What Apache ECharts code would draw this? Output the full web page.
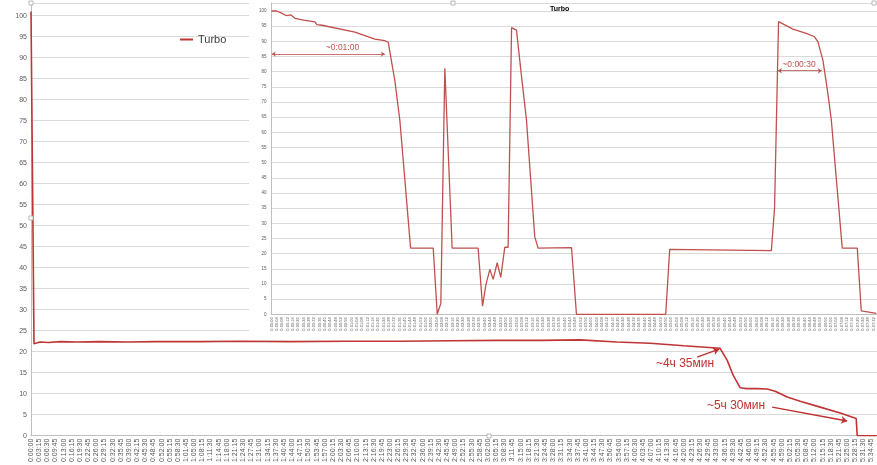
<!DOCTYPE html>
<html><head><meta charset="utf-8">
<script src="https://cdn.jsdelivr.net/npm/echarts@6/dist/echarts.min.js"></script>
<style>html,body{margin:0;padding:0;background:#fff}#c{width:877px;height:465px}</style>
</head><body><div id="c"></div>
<script>
// ---- main chart data (time in seconds, value) ----
const mainTimes  = [0, 72, 110, 215, 420, 700, 1100, 1650, 2300, 3000, 4040, 5000, 6190, 7500, 8820, 10000, 11210, 12200, 13120, 14000, 14795, 15600, 16465, 16634, 16778, 16945, 17100, 17350, 17590, 17782, 18068, 18380, 18857, 19335, 19718, 19742, 20215];
const mainValues = [101, 21.9, 22.1, 22.3, 22.2, 22.4, 22.3, 22.4, 22.3, 22.4, 22.4, 22.5, 22.4, 22.5, 22.5, 22.6, 22.7, 22.7, 22.8, 22.3, 22.0, 21.4, 20.8, 18.0, 14.4, 11.4, 11.2, 11.2, 11.1, 10.6, 9.2, 8.2, 6.8, 5.4, 4.1, 0, 0];
// ---- inset chart data (time in seconds, value) ----
const insetTimes  = [0, 3.9, 7.6, 10.9, 12.4, 14.6, 17.6, 25, 32.6, 34, 38, 62.6, 77.6, 85, 87.6, 92.6, 96.4, 104.4, 121.4, 124.4, 127.1, 130.1, 135.6, 155.1, 158.4, 160.9, 163.9, 166.4, 169.4, 172.1, 175.1, 177.6, 180.2, 183.9, 187.7, 191.4, 197.6, 200.1, 225.2, 228.9, 295.9, 298.9, 375.2, 377.6, 380.6, 391.4, 401.4, 407.6, 410.1, 413.9, 417.6, 420.2, 428.4, 439.7, 442.7, 454];
const insetValues = [100, 100, 99.3, 98.5, 98.1, 98.7, 97.6, 96.9, 96.4, 95.5, 95.3, 93.0, 90.7, 90.2, 89.7, 77, 63.7, 21.8, 21.8, 0, 3.6, 81.1, 21.8, 21.8, 2.7, 9.7, 14.8, 11.5, 17.0, 12.2, 22.1, 22.1, 94.5, 93.7, 78.3, 64, 25.6, 21.8, 22, 0, 0, 21.4, 21.0, 35, 96.5, 94.0, 92.6, 91.5, 89.9, 83.8, 72.9, 64.1, 21.8, 21.8, 1.1, 0.3];
const mainTickStep = 195;   // 0:03:15
const insetTickStep = 4;    // 0:00:04
const seriesName = 'Turbo';

const RED = '#c0504d';
const DARKRED = '#c0302e';
const GRAY = '#595959';
const GRID = '#d9d9d9';
const FONT = '"Liberation Sans", Arial, sans-serif';

function fmt(s){
  s = Math.round(s);
  const h = Math.floor(s/3600), m = Math.floor(s%3600/60), ss = s%60;
  return h + ':' + String(m).padStart(2,'0') + ':' + String(ss).padStart(2,'0');
}
const mainData = mainTimes.map((t,i)=>[t, mainValues[i]]);
const insetData = insetTimes.map((t,i)=>[t, insetValues[i]]);

const chart = echarts.init(document.getElementById('c'), null, {renderer:'canvas'});
const option = {
  animation: false,
  backgroundColor: '#fff',
  title: {text: 'Turbo', left: 545, top: 1, z: 10,
    textStyle: {fontSize: 7, fontWeight: 'bold', color: '#000', fontFamily: FONT}},
  legend: {left: 180, top: 34, padding: 0, itemWidth: 13, itemHeight: 2, icon: 'rect',
    data: [seriesName], textStyle: {fontSize: 11, color: '#404040', fontFamily: FONT}},
  grid: [
    {left: 31, top: 3, width: 846, height: 432.7, containLabel: false, outerBoundsMode: 'none'},
    {left: 271.5, top: 3.1, width: 605.5, height: 311.2, containLabel: false, outerBoundsMode: 'none'}
  ],
  xAxis: [
    {type: 'value', gridIndex: 0, min: 0, max: 20215, interval: mainTickStep, z: 0,
      axisLine: {show: true, lineStyle: {color: '#bfbfbf'}}, axisTick: {show: false},
      splitLine: {show: false},
      axisLabel: {rotate: 90, fontSize: 7, color: GRAY, margin: 3, fontFamily: FONT,
        formatter: v => (Math.round(v) % mainTickStep === 0 ? fmt(v) : '')}},
    {type: 'value', gridIndex: 1, min: 0, max: 454.5, interval: insetTickStep, z: 5,
      axisLine: {show: true, lineStyle: {color: '#bfbfbf'}}, axisTick: {show: false},
      splitLine: {show: false},
      axisLabel: {rotate: 90, fontSize: 4, color: GRAY, margin: 3, fontFamily: FONT,
        formatter: v => (Math.round(v*10) % (insetTickStep*10) === 0 ? fmt(v) : '')}}
  ],
  yAxis: [
    {type: 'value', gridIndex: 0, min: 0, max: 103, interval: 5, z: 0,
      axisLine: {show: true, lineStyle: {color: '#bfbfbf'}}, axisTick: {show: false},
      splitLine: {show: true, lineStyle: {color: GRID, width: 1}},
      axisLabel: {fontSize: 7, color: GRAY, margin: 4, fontFamily: FONT,
        formatter: v => (v % 5 === 0 ? String(v) : '')}},
    {type: 'value', gridIndex: 1, min: 0, max: 102.6, interval: 5, z: 5,
      axisLine: {show: true, lineStyle: {color: '#bfbfbf'}}, axisTick: {show: false},
      splitLine: {show: true, lineStyle: {color: GRID, width: 1}},
      axisLabel: {fontSize: 4.5, color: GRAY, margin: 5, fontFamily: FONT,
        formatter: v => (Math.abs(v % 5) < 1e-6 ? String(Math.round(v)) : '')}}
  ],
  graphic: [
    {type: 'rect', z: 3, silent: true, shape: {x: 249, y: 0, width: 628, height: 337}, style: {fill: '#fff'}},
    {type: 'text', z: 20, x: 685, y: 364, style: {text: '~4ч 35мин', fill: DARKRED, font: '12px ' + FONT, align: 'center', verticalAlign: 'middle'}},
    {type: 'text', z: 20, x: 736, y: 406, style: {text: '~5ч 30мин', fill: DARKRED, font: '12px ' + FONT, align: 'center', verticalAlign: 'middle'}},
    {type: 'text', z: 20, x: 342.5, y: 48, style: {text: '~0:01:00', fill: RED, font: '8.5px ' + FONT, align: 'center', verticalAlign: 'middle'}},
    {type: 'text', z: 20, x: 799, y: 65, style: {text: '~0:00:30', fill: RED, font: '8.5px ' + FONT, align: 'center', verticalAlign: 'middle'}},
    {type: 'rect', z: 20, shape: {x: 29, y: 1, width: 4, height: 4}, style: {fill: '#fff', stroke: '#aaa', lineWidth: 0.8}},
    {type: 'rect', z: 20, shape: {x: 29, y: 216, width: 4, height: 4}, style: {fill: '#fff', stroke: '#aaa', lineWidth: 0.8}},
    {type: 'rect', z: 20, shape: {x: 487, y: 434, width: 4, height: 4}, style: {fill: '#fff', stroke: '#aaa', lineWidth: 0.8}},
    {type: 'rect', z: 20, shape: {x: 451, y: 1, width: 4, height: 4}, style: {fill: '#fff', stroke: '#aaa', lineWidth: 0.8}},
    {type: 'rect', z: 20, shape: {x: 872, y: 1, width: 4, height: 4}, style: {fill: '#fff', stroke: '#aaa', lineWidth: 0.8}}
  ],
  series: [
    {name: seriesName, type: 'line', xAxisIndex: 0, yAxisIndex: 0, z: 2, data: mainData,
      showSymbol: false, symbol: 'none', lineStyle: {color: '#bf3535', width: 1.6}, itemStyle: {color: '#bf3535'},
      markLine: {silent: true, symbol: ['none', 'arrow'], symbolSize: 6, label: {show: false},
        lineStyle: {color: DARKRED, width: 1.5, type: 'solid'},
        data: [
          [{coord: [15917, 18.7]}, {coord: [16443, 20.6]}],
          [{coord: [17710, 6.8]}, {coord: [19502, 3.5]}]
        ]}},
    {name: seriesName + ' ', type: 'line', xAxisIndex: 1, yAxisIndex: 1, z: 6, data: insetData,
      showSymbol: false, symbol: 'none', lineStyle: {color: RED, width: 1.3}, itemStyle: {color: RED},
      markLine: {silent: true, symbol: ['arrow', 'arrow'], symbolSize: 4, label: {show: false},
        lineStyle: {color: RED, width: 0.8, type: 'solid'},
        data: [
          [{coord: [0.2, 85.8]}, {coord: [85.1, 85.8]}],
          [{coord: [380.1, 80.3]}, {coord: [413.1, 80.3]}]
        ]}}
  ]
};
chart.setOption(option);
</script></body></html>
